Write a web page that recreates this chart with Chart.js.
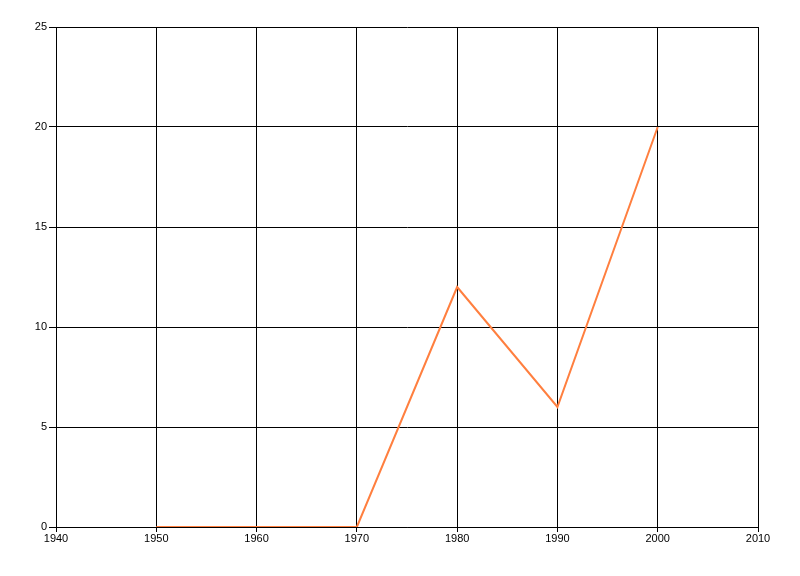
<!DOCTYPE html>
<html>
<head>
<meta charset="utf-8">
<script src="https://cdn.jsdelivr.net/npm/chart.js@4/dist/chart.umd.min.js"></script>
<style>
html,body{margin:0;padding:0;background:#fff;}
#wrap{width:800px;height:576px;position:relative;}
</style>
</head>
<body>
<div id="wrap"><canvas id="c" width="800" height="576"></canvas></div>
<script>
const years = [1950, 1960, 1970, 1980, 1990, 2000];
const values = [0, 0, 0, 12, 6, 20];
const xMin = 1940, xMax = 2010, xStep = 10;
const yMin = 0, yMax = 25, yStep = 5;

const font = {family: "'Liberation Sans', Arial, sans-serif", size: 11};
new Chart(document.getElementById('c'), {
  type: 'line',
  data: {
    datasets: [{
      data: years.map((y, i) => ({x: y, y: values[i]})),
      borderColor: '#FF7F3F',
      borderWidth: 2,
      pointRadius: 0,
      tension: 0,
      fill: false
    }]
  },
  options: {
    responsive: false,
    animation: false,
    plugins: {legend: {display: false}, tooltip: {enabled: false}},
    layout: {padding: {left: 0, top: 27, right: 42, bottom: 0}},
    scales: {
      x: {
        type: 'linear', min: xMin, max: xMax,
        ticks: {stepSize: xStep, color: '#000', font: font, padding: 0, maxRotation: 0, callback: v => String(v)},
        grid: {color: '#000', lineWidth: 1, tickLength: 5, drawTicks: true},
        border: {color: '#000', width: 1},
        afterFit: s => { s.height = 49; }
      },
      y: {
        min: yMin, max: yMax,
        ticks: {stepSize: yStep, color: '#000', font: font, padding: 2},
        grid: {color: '#000', lineWidth: 1, tickLength: 7},
        border: {color: '#000', width: 1},
        afterFit: s => { s.width = 56; }
      }
    }
  }
});
</script>
</body>
</html>
